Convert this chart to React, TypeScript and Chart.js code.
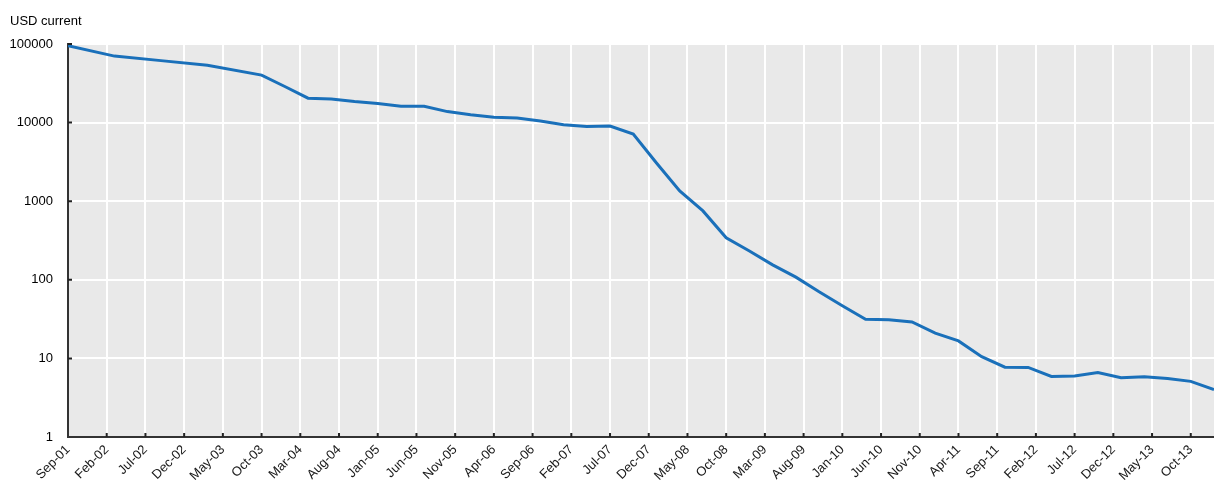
import React, { useEffect, useRef } from 'react';
import { Chart, registerables } from 'chart.js';

Chart.register(...registerables);

const MONTHS = ['Jan', 'Feb', 'Mar', 'Apr', 'May', 'Jun', 'Jul', 'Aug', 'Sep', 'Oct', 'Nov', 'Dec'];
const AXIS_START = 'Sep-01';
const AXIS_END = 'Jan-14';
const LABEL_STEP_MONTHS = 5;

const dates = [
  'Sep-01', 'Mar-02', 'Sep-02', 'Mar-03', 'Oct-03', 'Jan-04', 'Apr-04', 'Jul-04', 'Oct-04',
  'Jan-05', 'Apr-05', 'Jul-05', 'Oct-05', 'Jan-06', 'Apr-06', 'Jul-06', 'Oct-06',
  'Jan-07', 'Apr-07', 'Jul-07', 'Oct-07', 'Jan-08', 'Apr-08', 'Jul-08', 'Oct-08',
  'Jan-09', 'Apr-09', 'Jul-09', 'Oct-09', 'Jan-10', 'Apr-10', 'Jul-10', 'Oct-10',
  'Jan-11', 'Apr-11', 'Jul-11', 'Oct-11', 'Jan-12', 'Apr-12', 'Jul-12', 'Oct-12',
  'Jan-13', 'Apr-13', 'Jul-13', 'Oct-13', 'Jan-14',
];

const costs = [
  95263, 70175, 61448, 53752, 40158, 28780, 20443, 19934, 18519,
  17535, 16160, 16180, 13801, 12586, 11733, 11455, 10475,
  9409, 8927, 9047, 7148, 3064, 1353, 752, 343,
  233, 155, 108, 70.3, 46.8, 31.5, 31.1, 29.1,
  21.0, 16.7, 10.5, 7.74, 7.67, 5.90, 5.99, 6.62,
  5.67, 5.83, 5.55, 5.10, 4.01,
];

const yTickValues = [1, 10, 100, 1000, 10000, 100000];
const yTitle = 'USD current';

function parseLabel(label: string) {
  const [m, y] = label.split('-');
  return { month: MONTHS.indexOf(m), year: 2000 + Number(y) };
}

const start = parseLabel(AXIS_START);

function monthIndex(label: string) {
  const p = parseLabel(label);
  return (p.year - start.year) * 12 + p.month - start.month;
}

function monthLabel(i: number) {
  const t = start.month + i;
  const m = ((t % 12) + 12) % 12;
  const y = start.year + Math.floor(t / 12);
  return MONTHS[m] + '-' + String(y % 100).padStart(2, '0');
}

const FONT = "'Liberation Sans', Arial, sans-serif";

const plotBackground = {
  id: 'plotBackground',
  beforeDraw(chart: any) {
    const { ctx, chartArea } = chart;
    if (!chartArea) return;
    ctx.save();
    ctx.fillStyle = '#e9e9e9';
    ctx.fillRect(chartArea.left, chartArea.top, chartArea.right - chartArea.left, chartArea.bottom - chartArea.top);
    ctx.restore();
  },
};

const innerTicks = {
  id: 'innerTicks',
  afterDraw(chart: any) {
    const { ctx, chartArea, scales } = chart;
    ctx.save();
    ctx.strokeStyle = '#222';
    ctx.lineWidth = 2;
    ctx.beginPath();
    scales.x.ticks.forEach((t: any) => {
      const px = scales.x.getPixelForValue(t.value);
      if (px <= chartArea.left + 1) return;
      ctx.moveTo(px, chartArea.bottom);
      ctx.lineTo(px, chartArea.bottom - 4);
    });
    scales.y.ticks.forEach((t: any) => {
      const py = scales.y.getPixelForValue(t.value);
      if (py >= chartArea.bottom - 1) return;
      ctx.moveTo(chartArea.left, py);
      ctx.lineTo(chartArea.left + 4, py);
    });
    ctx.stroke();
    ctx.restore();
  },
};

export default function App() {
  const canvasRef = useRef<HTMLCanvasElement | null>(null);

  useEffect(() => {
    if (!canvasRef.current) return;
    const points = dates.map((d, i) => ({ x: monthIndex(d), y: costs[i] }));
    const xMax = monthIndex(AXIS_END);
    const chart = new Chart(canvasRef.current, {
      type: 'line',
      data: {
        datasets: [
          {
            data: points,
            borderColor: '#1a70ba',
            borderWidth: 3,
            pointRadius: 0,
            tension: 0,
            fill: false,
          },
        ],
      },
      options: {
        animation: false,
        responsive: true,
        maintainAspectRatio: false,
        layout: { padding: { left: 10, right: 0, top: 4, bottom: 0 } },
        plugins: {
          legend: { display: false },
          tooltip: { enabled: false },
          title: {
            display: true,
            text: yTitle,
            align: 'start',
            color: '#000',
            font: { family: FONT, size: 13, weight: 'normal' },
            padding: { top: 10, bottom: 14.4 },
          },
        },
        scales: {
          x: {
            type: 'linear',
            min: 0,
            max: xMax,
            afterBuildTicks: (axis: any) => {
              const ticks = [];
              for (let v = 0; v <= xMax; v += LABEL_STEP_MONTHS) ticks.push({ value: v });
              axis.ticks = ticks;
            },
            afterFit: (axis: any) => {
              axis.height = 45;
            },
            ticks: {
              autoSkip: false,
              maxRotation: 45,
              minRotation: 45,
              padding: 5,
              color: '#1a1a1a',
              font: { family: FONT, size: 13 },
              callback: (v: any) => monthLabel(Number(v)),
            },
            grid: { color: '#ffffff', lineWidth: 2, drawTicks: false },
            border: { display: true, color: '#333', width: 2 },
          },
          y: {
            type: 'logarithmic',
            min: 1,
            max: 100000,
            afterBuildTicks: (axis: any) => {
              axis.ticks = yTickValues.map((v) => ({ value: v }));
            },
            afterFit: (axis: any) => {
              axis.width = 58;
            },
            ticks: {
              padding: 15,
              color: '#000',
              font: { family: FONT, size: 13 },
              callback: (v: any) => String(v),
            },
            grid: { color: '#ffffff', lineWidth: 2, drawTicks: false },
            border: { display: true, color: '#333', width: 2 },
          },
        },
      },
      plugins: [plotBackground, innerTicks],
    });
    return () => chart.destroy();
  }, []);

  return (
    <div style={{ position: 'absolute', left: 0, top: 0, width: 1214, height: 482, background: '#fff' }}>
      <canvas ref={canvasRef} />
    </div>
  );
}
